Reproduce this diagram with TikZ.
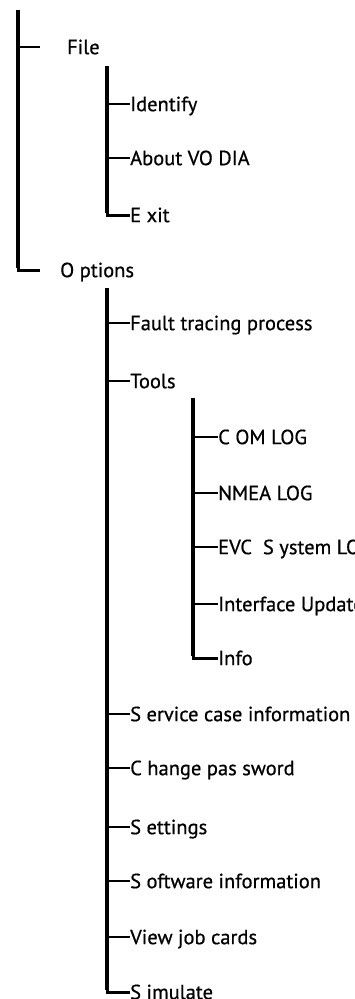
\documentclass[tikz,border=0pt]{standalone}
\usepackage{fontspec}
\setmainfont{PT Sans}[FakeBold=0.6]
\begin{document}
\begin{tikzpicture}[x=1pt,y=-1pt,
  vline/.style={line width=3.5pt,line cap=butt},
  hline/.style={line width=2.6pt},
  corner/.style={line width=3pt,line join=miter},
  lbl/.style={anchor=west,inner sep=0pt,text height=14.3pt,text depth=0pt,font=\fontsize{20.5}{22}\selectfont}]
\clip (0,0) rectangle (355,999);
\fill[white] (0,0) rectangle (355,999);
% level 1
\coordinate (r0) at (18,10);
\coordinate (rF) at (40,47);
\coordinate (rO) at (40,270);
\node[lbl] (file) at (67,47) {File};
\node[lbl] (options) at (60,270) {O ptions};
\draw[vline] (r0) -- (18,268);
\draw[hline] (18,47) -- (rF);
\draw[corner] (18,255) |- (rO);
% File children
\coordinate (f0) at (107,66);
\node[lbl] (identify) at (130,104) {Identify};
\node[lbl] (about) at (130,158) {About VO DIA};
\node[lbl] (exit) at (130,215) {E xit};
\draw[vline] (f0) -- (107,213);
\draw[hline] (107,104) -- (identify.west);
\draw[hline] (107,158) -- (about.west);
\draw[corner] (107,200) |- (exit.west);
% Options children
\coordinate (o0) at (107,288);
\node[lbl] (fault) at (130,323) {Fault tracing process};
\node[lbl] (tools) at (130,381) {Tools};
\node[lbl] (service) at (130,714) {S ervice case information};
\node[lbl] (change) at (130,768) {C hange pas sword};
\node[lbl] (settings) at (130,827) {S ettings};
\node[lbl] (software) at (130,881) {S oftware information};
\node[lbl] (view) at (130,937) {View job cards};
\node[lbl] (simulate) at (130,992) {S imulate};
\draw[vline] (o0) -- (107,990);
\foreach \n/\y in {fault/323,tools/381,service/714,change/768,settings/827,software/881,view/937}
  \draw[hline] (107,\y) -- (\n.west);
\draw[corner] (107,975) |- (simulate.west);
% Tools children
\coordinate (t0) at (193,398);
\node[lbl] (com) at (218,437) {C OM LOG};
\node[lbl] (nmea) at (218,493) {NMEA LOG};
\node[lbl] (evc) at (218,547) {EVC\ \ S ystem LOG};
\node[lbl] (iface) at (218,604) {Interface Update};
\node[lbl] (info) at (218,658) {Info};
\draw[vline] (t0) -- (193,656);
\foreach \n/\y in {com/437,nmea/493,evc/547,iface/604}
  \draw[hline] (193,\y) -- (\n.west);
\draw[corner] (193,640) |- (info.west);
\end{tikzpicture}
\end{document}
